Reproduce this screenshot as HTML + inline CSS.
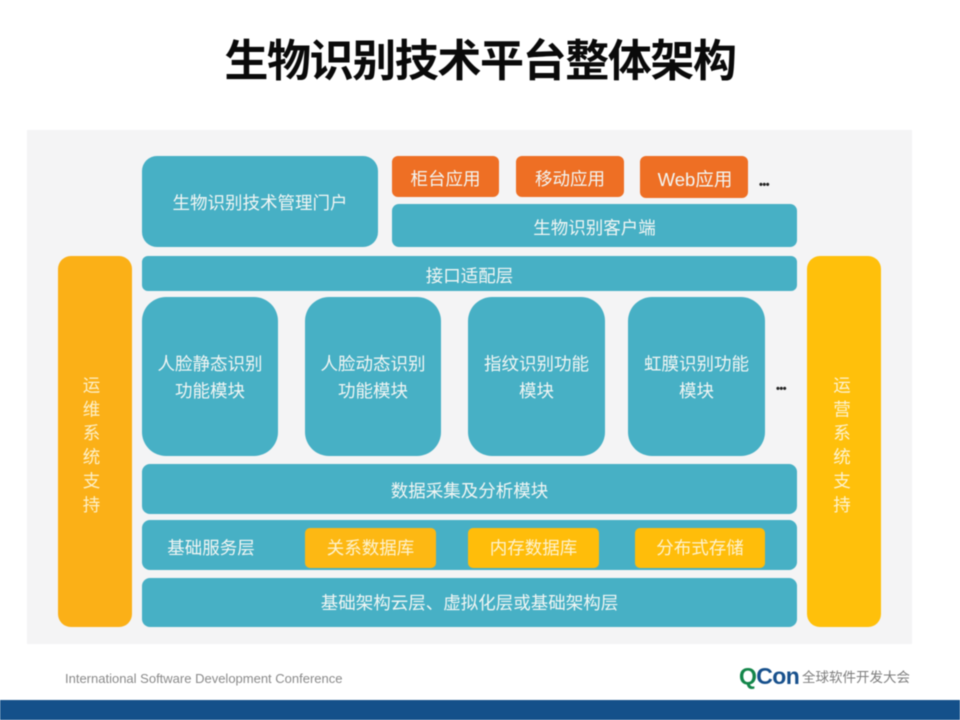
<!DOCTYPE html>
<html lang="zh">
<head>
<meta charset="utf-8">
<style>
html,body{margin:0;padding:0;background:#fff}
#s{position:relative;width:960px;height:720px;overflow:hidden;background:#fff;font-family:"Liberation Sans","Noto Sans CJK SC",sans-serif;filter:blur(.5px)}
#s div{position:absolute;box-sizing:border-box}
.b{display:flex;align-items:center;justify-content:center;text-align:center;color:#f2f6f4;font-size:17.5px;line-height:27px;padding-top:5px;font-family:"Liberation Sans","Noto Sans CJK SC",sans-serif}
.t{background:#47b0c5}
.o{background:#ee6f24;border-radius:6px}
.y{background:#fdb813;border-radius:5px;color:#fdf3d0;padding-top:0}
.v{writing-mode:vertical-rl;letter-spacing:6.4px;padding:12px 6px 0 0}
.d{color:#222;font-size:11px;font-weight:bold;line-height:10px;letter-spacing:-.5px}
</style>
</head>
<body>
<div id="s">
<div style="left:0;right:0;top:35px;height:54px;line-height:54px;text-align:center;font-size:44px;font-weight:bold;color:#0a0a0a;letter-spacing:-1.4px;white-space:nowrap">生物识别技术平台整体架构</div>
<div style="left:27px;top:130px;width:885px;height:514px;background:#f4f4f5"></div>

<div class="b t" style="left:142px;top:156px;width:236px;height:91px;border-radius:15px;padding-top:3px">生物识别技术管理门户</div>
<div class="b o" style="left:392px;top:156px;width:107px;height:41px">柜台应用</div>
<div class="b o" style="left:516px;top:156px;width:108px;height:41px">移动应用</div>
<div class="b o" style="left:640px;top:156px;width:108px;height:42px;font-size:18.5px;padding-left:2px">Web应用</div>
<div class="d" style="left:759px;top:180px">•••</div>
<div class="b t" style="left:392px;top:204px;width:405px;height:43px;border-radius:7px">生物识别客户端</div>
<div class="b t" style="left:142px;top:256px;width:655px;height:35px;border-radius:6px">接口适配层</div>

<div class="b v" style="left:58px;top:256px;width:74px;height:371px;border-radius:13px;background:#fbb017;color:#fdf0c8;padding-right:9px">运维系统支持</div>
<div class="b v" style="left:807px;top:256px;width:74px;height:371px;border-radius:13px;background:#ffc00b;color:#fdf3d0">运营系统支持</div>

<div class="b t" style="left:142px;top:297px;width:136px;height:159px;border-radius:24px;padding-top:3px">人脸静态识别<br>功能模块</div>
<div class="b t" style="left:305px;top:297px;width:136px;height:159px;border-radius:24px;padding-top:3px">人脸动态识别<br>功能模块</div>
<div class="b t" style="left:468px;top:297px;width:137px;height:159px;border-radius:24px;padding-top:3px">指纹识别功能<br>模块</div>
<div class="b t" style="left:628px;top:297px;width:137px;height:159px;border-radius:24px;padding-top:3px">虹膜识别功能<br>模块</div>
<div class="d" style="left:776px;top:384px">•••</div>

<div class="b t" style="left:142px;top:464px;width:655px;height:50px;border-radius:8px">数据采集及分析模块</div>
<div class="t" style="left:142px;top:520px;width:655px;height:50px;border-radius:8px"></div>
<div class="b" style="left:143px;top:528px;width:136px;height:38px;padding-top:2px">基础服务层</div>
<div class="b y" style="left:305px;top:528px;width:131px;height:40px">关系数据库</div>
<div class="b y" style="left:468px;top:528px;width:131px;height:40px;background:#ffbd0a">内存数据库</div>
<div class="b y" style="left:635px;top:528px;width:130px;height:40px;background:#ffbd0a">分布式存储</div>
<div class="b t" style="left:142px;top:578px;width:655px;height:49px;border-radius:8px;padding-top:2px">基础架构云层、虚拟化层或基础架构层</div>

<div style="left:65px;top:671px;font-size:13px;line-height:16px;color:#8a8a8a;white-space:nowrap">International Software Development Conference</div>
<div style="left:739px;top:664px;font-size:23px;line-height:24px;font-weight:bold;color:#17508c;white-space:nowrap;letter-spacing:-.6px"><span style="color:#14864a">Q</span>Con</div>
<div style="left:802px;top:669px;font-size:13.5px;line-height:18px;color:#7d7d7d;white-space:nowrap">全球软件开发大会</div>
<div style="left:0;top:700px;width:960px;height:20px;background:#14508a"></div>
</div>
</body>
</html>
